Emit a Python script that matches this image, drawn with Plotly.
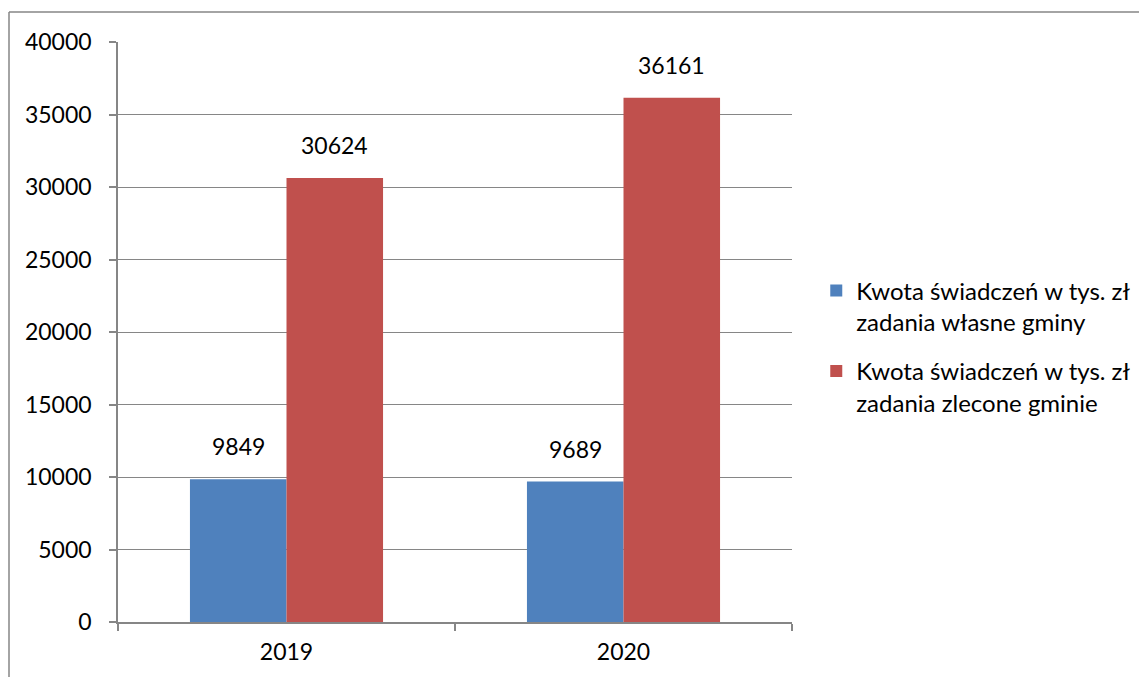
import plotly.graph_objects as go

years = ["2019", "2020"]
own_tasks = [9849, 9689]
commissioned_tasks = [30624, 36161]
series_names = [
    "Kwota świadczeń w tys. zł<br>zadania własne gminy",
    "Kwota świadczeń w tys. zł<br>zadania zlecone gminie",
]
y_ticks = [0, 5000, 10000, 15000, 20000, 25000, 30000, 35000, 40000]

FONT = "Lato"
GRAY = "#868686"
colors = ["#4F81BD", "#C0504D"]

fig = go.Figure()
for i, (name, vals, col) in enumerate(zip(series_names, [own_tasks, commissioned_tasks], colors)):
    fig.add_trace(go.Bar(x=years, y=vals, name=name, legendgroup=f"g{i}",
                         marker=dict(color=col, line=dict(width=0))))

annotations = []
for vals, shift in [(own_tasks, -48), (commissioned_tasks, 48)]:
    for i, v in enumerate(vals):
        annotations.append(dict(x=i, y=v, text=str(v), showarrow=False, xref="x", yref="y",
                                xshift=shift, yanchor="bottom", yshift=17,
                                font=dict(family=FONT, size=23, color="#000000")))

# page body has an 8px margin; offsets are relative to the figure div
OFF = 8
W, H = 1147, 677
ml, mt = 118 - OFF, 42 - OFF
mr = W - (792 - OFF)
mb = H - (622 - OFF)
pw, ph = W - ml - mr, H - mt - mb
bx0 = (9 - OFF - ml) / pw
by1 = 1 + (mt - (12 - OFF)) / ph

fig.update_layout(
    width=W, height=H,
    margin=dict(l=ml, r=mr, t=mt, b=mb, autoexpand=False),
    paper_bgcolor="white", plot_bgcolor="white",
    barmode="group", bargap=0.427, bargroupgap=0,
    font=dict(family=FONT, size=23, color="#000000"),
    annotations=annotations,
    legend=dict(x=1.036, y=0.475, xanchor="left", yanchor="middle",
                font=dict(family=FONT, size=24), valign="top", traceorder="grouped",
                tracegroupgap=15, itemwidth=30, bgcolor="rgba(0,0,0,0)"),
    shapes=[
        dict(type="line", xref="paper", yref="paper", x0=bx0, x1=2.0, y0=by1, y1=by1,
             line=dict(color=GRAY, width=1.5)),
        dict(type="line", xref="paper", yref="paper", x0=bx0, x1=bx0, y0=by1, y1=-1.0,
             line=dict(color=GRAY, width=1.5)),
    ],
    xaxis=dict(type="category", range=[-0.5, 1.5], showline=True, linecolor=GRAY, linewidth=1.5,
               ticks="outside", tickson="boundaries", ticklen=7, tickcolor=GRAY,
               tickwidth=1.5, ticklabelstandoff=9, showgrid=False,
               tickfont=dict(family=FONT, size=23)),
    yaxis=dict(range=[0, 40000], tickvals=y_ticks, ticktext=[str(t) for t in y_ticks],
               showline=True, linecolor=GRAY, linewidth=1.5, ticks="outside", ticklen=7,
               tickcolor=GRAY, tickwidth=1.5, showgrid=True, gridcolor=GRAY, gridwidth=1,
               zeroline=False, ticklabelstandoff=13, tickfont=dict(family=FONT, size=23)),
)

fig.write_html("out.html")
